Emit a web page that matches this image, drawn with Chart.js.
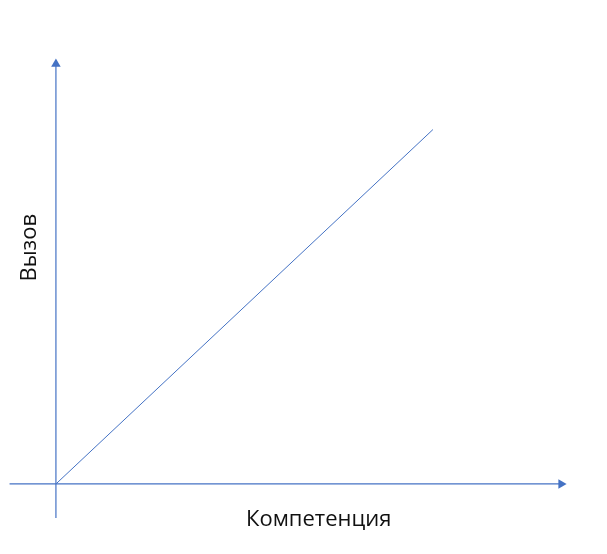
<!DOCTYPE html>
<html>
<head>
<meta charset="utf-8">
<script src="https://cdn.jsdelivr.net/npm/chart.js@4/dist/chart.umd.min.js"></script>
<style>
  html, body { margin: 0; padding: 0; background: #fff; }
  #wrap { width: 607px; height: 554px; position: relative; }
</style>
</head>
<body>
<div id="wrap"><canvas id="chart"></canvas></div>
<script>
// диагональ: компетенция = вызов
const competence = [0, 10];
const challenge = [0, 10];

// оси со стрелками (концы стрелок в единицах данных)
const xAxisX = [-1.23, 13.4];
const xAxisY = [0, 0];
const yAxisX = [0, 0];
const yAxisY = [-0.96, 11.85];

const xLabel = 'Компетенция';
const yLabel = 'Вызов';

const blue = '#4472C4';

function toPoints(xs, ys) {
    return xs.map((x, i) => ({ x: x, y: ys[i] }));
}

const arrowSize = 5.5;
const labelFont = { family: "'Open Sans', 'Noto Sans', sans-serif", size: 22 };

new Chart(document.getElementById('chart'), {
    type: 'scatter',
    data: {
        datasets: [
            {
                label: 'diag',
                data: toPoints(competence, challenge),
                showLine: true,
                borderColor: blue,
                borderWidth: 1,
                pointRadius: 0
            },
            {
                label: 'xaxis',
                data: toPoints(xAxisX, xAxisY),
                showLine: true,
                borderColor: blue,
                borderWidth: 1.2,
                backgroundColor: blue,
                pointBorderWidth: 0,
                pointStyle: 'triangle',
                pointRadius: [0, arrowSize],
                rotation: [0, 90],
                clip: false
            },
            {
                label: 'yaxis',
                data: toPoints(yAxisX, yAxisY),
                showLine: true,
                borderColor: blue,
                borderWidth: 1.2,
                backgroundColor: blue,
                pointBorderWidth: 0,
                pointStyle: 'triangle',
                pointRadius: [0, arrowSize],
                rotation: [0, 0],
                clip: false
            }
        ]
    },
    options: {
        responsive: true,
        maintainAspectRatio: false,
        animation: false,
        events: [],
        layout: { padding: { left: 13, right: 21, top: 0, bottom: 17 } },
        plugins: {
            legend: { display: false },
            tooltip: { enabled: false }
        },
        scales: {
            x: {
                type: 'linear',
                min: -0.12,
                max: 14.06,
                grid: { display: false },
                border: { display: false },
                ticks: { display: false },
                title: {
                    display: true,
                    text: xLabel,
                    color: '#111',
                    font: labelFont,
                    padding: { top: 8.6, bottom: 4 }
                }
            },
            y: {
                type: 'linear',
                min: -0.17,
                max: 13.5,
                grid: { display: false },
                border: { display: false },
                ticks: { display: false },
                title: {
                    display: true,
                    text: yLabel,
                    color: '#111',
                    font: labelFont,
                    padding: { top: 4, bottom: 0 }
                }
            }
        }
    }
});
</script>
</body>
</html>
